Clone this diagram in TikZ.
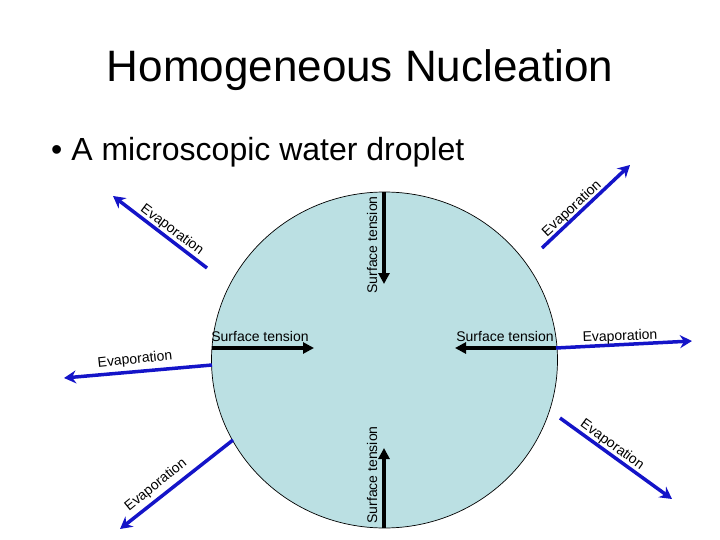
\documentclass[tikz,border=0pt]{standalone}
\usepackage{fontspec}
\setmainfont{Liberation Sans}
\usetikzlibrary{arrows.meta,shapes.geometric}
\definecolor{dropfill}{RGB}{187,224,227}
\definecolor{evapblue}{RGB}{20,20,200}
\begin{document}
\begin{tikzpicture}[x=1pt,y=-1pt,
  tensarrow/.style={line width=3.5pt,draw=black,-{Triangle[length=11pt,width=11pt]}},
  evaparrow/.style={line width=3.5pt,draw=evapblue,-{Stealth[length=12pt,width=13pt,inset=4pt]}},
  lbl/.style={inner sep=0pt,font=\fontsize{14}{16}\selectfont},
]
\useasboundingbox (0,0) rectangle (720,540);
% title and bullet
\node[inner sep=0pt,anchor=base,font=\fontsize{44}{50}\selectfont] (title) at (360,82) {Homogeneous Nucleation};
\node[inner sep=0pt,anchor=base west,font=\fontsize{32}{38}\selectfont] (bullet) at (51,161) {\textbullet\ A microscopic water droplet};
% droplet
\node[draw=black,line width=0.7pt,fill=dropfill,ellipse,minimum width=346pt,minimum height=336pt,inner sep=0pt] (drop) at (384.5,360) {};
% surface tension arrows
\coordinate (tTop) at (384,192);
\coordinate (tTopTip) at (384,284);
\coordinate (tBot) at (384,528);
\coordinate (tBotTip) at (384,448);
\coordinate (tLeft) at (212,348);
\coordinate (tLeftTip) at (314,348);
\coordinate (tRight) at (556,348);
\coordinate (tRightTip) at (455,348);
\draw[tensarrow] (tTop) -- (tTopTip);
\draw[tensarrow] (tBot) -- (tBotTip);
\draw[tensarrow] (tLeft) -- (tLeftTip);
\draw[tensarrow] (tRight) -- (tRightTip);
\node[lbl,rotate=90] (sTop) at (372,245) {Surface tension};
\node[lbl,rotate=90] (sBot) at (372,475) {Surface tension};
\node[lbl] (sLeft) at (260,336) {Surface tension};
\node[lbl] (sRight) at (505,336) {Surface tension};
% evaporation arrows
\coordinate (eTL) at (207,268);
\coordinate (eTLTip) at (113,196);
\coordinate (eTR) at (542,248);
\coordinate (eTRTip) at (630,165);
\coordinate (eL) at (212,365);
\coordinate (eLTip) at (64,378);
\coordinate (eR) at (556,348);
\coordinate (eRTip) at (692,341);
\coordinate (eBL) at (233,440);
\coordinate (eBLTip) at (120,529);
\coordinate (eBR) at (560,418);
\coordinate (eBRTip) at (672,499);
\draw[evaparrow] (eTL) -- (eTLTip);
\draw[evaparrow] (eTR) -- (eTRTip);
\draw[evaparrow] (eL) -- (eLTip);
\draw[evaparrow] (eR) -- (eRTip);
\draw[evaparrow] (eBL) -- (eBLTip);
\draw[evaparrow] (eBR) -- (eBRTip);
\node[lbl,rotate=-37] (vTL) at (172,230) {Evaporation};
\node[lbl,rotate=43] (vTR) at (572,209) {Evaporation};
\node[lbl,rotate=6] (vL) at (135,360) {Evaporation};
\node[lbl,rotate=2] (vR) at (620,337) {Evaporation};
\node[lbl,rotate=39] (vBL) at (156,485) {Evaporation};
\node[lbl,rotate=-36] (vBR) at (612,445) {Evaporation};
\end{tikzpicture}
\end{document}
